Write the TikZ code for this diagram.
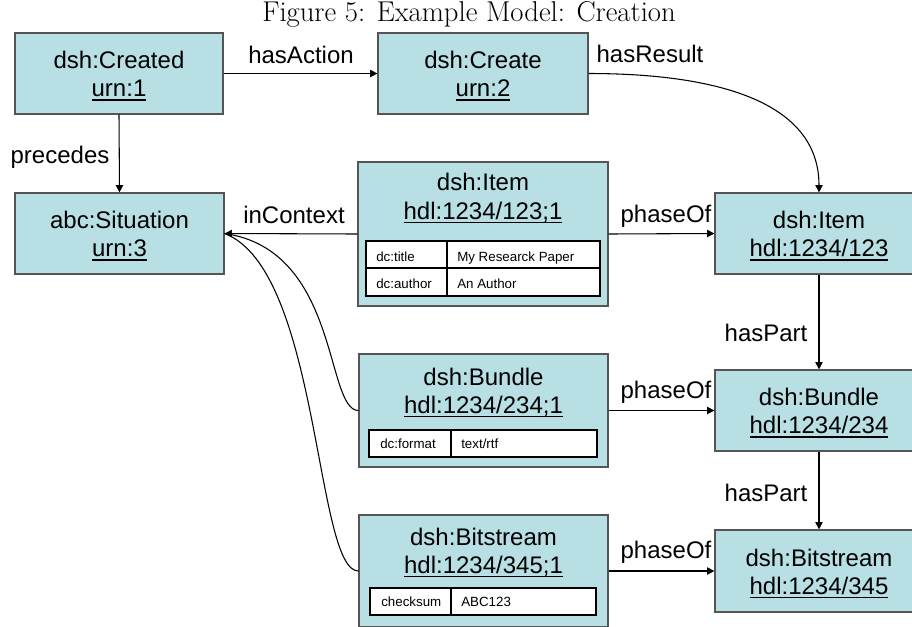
\documentclass[tikz,border=0pt]{standalone}
\usepackage{fontspec}
\newfontfamily\arialf{Liberation Sans}
\usetikzlibrary{arrows.meta}
\definecolor{boxfill}{RGB}{184,223,227}
\definecolor{boxline}{RGB}{85,85,85}
\newcommand\undl[1]{\setbox0\hbox{#1}\rlap{\rule[-3.2pt]{\wd0}{1.1pt}}\box0}
\begin{document}
\begin{tikzpicture}[x=0.75pt,y=-0.75pt,
  obj/.style={draw=boxline, line width=0.9pt, fill=boxfill, rectangle, inner sep=0pt},
  txt/.style={font=\arialf\fontsize{18}{21}\selectfont, inner sep=0pt, anchor=base},
  cell/.style={font=\arialf\fontsize{10}{12}\selectfont, inner sep=0pt, anchor=base west},
  tblfill/.style={fill=white, rectangle, inner sep=0pt},
  tblframe/.style={draw=black, line width=2.2pt, rectangle, inner sep=0pt},
  tline/.style={draw=black, line width=0.8pt},
  conn/.style={draw=black, line width=0.8pt, -{Triangle[length=5.5pt,width=5.5pt]}},
  plain/.style={draw=black, line width=0.8pt},
]
\useasboundingbox (0,0) rectangle (912,626);
\clip (0,0) rectangle (912,626);
\fill[white] (0,0) rectangle (912,626);

% title
\node[font=\fontsize{21.5}{25}\selectfont, inner sep=0pt, anchor=base] (title) at (469,21) {Figure 5: Example Model: Creation};

% boxes
\node[obj, minimum width=156pt, minimum height=60.75pt] (created) at (119,73.5) {};
\node[obj, minimum width=157.5pt, minimum height=60.75pt] (create) at (483,73.5) {};
\node[obj, minimum width=156.75pt, minimum height=60.75pt] (situation) at (119.5,233.5) {};
\node[obj, minimum width=187.5pt, minimum height=108pt] (itemM) at (483,234) {};
\node[obj, minimum width=186.75pt, minimum height=84.75pt] (bundleM) at (483.5,410.5) {};
\node[obj, minimum width=186.75pt, minimum height=84pt] (bitM) at (483.5,571) {};
\node[obj, minimum width=156pt, minimum height=60.75pt] (itemR) at (819,233.5) {};
\node[obj, minimum width=156pt, minimum height=60.75pt] (bundleR) at (819,410.5) {};
\node[obj, minimum width=156pt, minimum height=61.5pt] (bitR) at (819,571) {};

% box texts
\node[txt] (createdA) at (119,68.5) {dsh:Created};
\node[txt] (createdB) at (119,96.5) {\undl{urn:1}};
\node[txt] (createA) at (483,68.5) {dsh:Create};
\node[txt] (createB) at (483,96.5) {\undl{urn:2}};
\node[txt] (situationA) at (119.5,228.5) {abc:Situation};
\node[txt] (situationB) at (119.5,256.5) {\undl{urn:3}};
\node[txt] (itemMA) at (483,190) {dsh:Item};
\node[txt] (itemMB) at (483,219) {\undl{hdl:1234/123;1}};
\node[txt] (bundleMA) at (483.5,385) {dsh:Bundle};
\node[txt] (bundleMB) at (483.5,413) {\undl{hdl:1234/234;1}};
\node[txt] (bitMA) at (483.5,545) {dsh:Bitstream};
\node[txt] (bitMB) at (483.5,573) {\undl{hdl:1234/345;1}};
\node[txt] (itemRA) at (819,228.5) {dsh:Item};
\node[txt] (itemRB) at (819,256.5) {\undl{hdl:1234/123}};
\node[txt] (bundleRA) at (819,405.5) {dsh:Bundle};
\node[txt] (bundleRB) at (819,433.5) {\undl{hdl:1234/234}};
\node[txt] (bitRA) at (819,566) {dsh:Bitstream};
\node[txt] (bitRB) at (819,594) {\undl{hdl:1234/345}};

% tables
\node[tblfill, minimum width=175.5pt, minimum height=41.25pt] (itemTab) at (483,268.5) {};
\draw[tline] (366,268) -- (600,268);
\draw[tline] (447,241) -- (447,296);
\node[tblframe, minimum width=175.5pt, minimum height=41.25pt] (itemTabF) at (483,268.5) {};
\node[cell] (c1) at (376,261) {dc:title};
\node[cell] (c2) at (457,261) {My Researck Paper};
\node[cell] (c3) at (376,288) {dc:author};
\node[cell] (c4) at (457,288) {An Author};

\node[tblfill, minimum width=171pt, minimum height=20.25pt] (bundleTab) at (483,443.5) {};
\draw[tline] (451,430) -- (451,457);
\node[tblframe, minimum width=171pt, minimum height=20.25pt] (bundleTabF) at (483,443.5) {};
\node[cell] (c5) at (380,448) {dc:format};
\node[cell] (c6) at (461,448) {text/rtf};

\node[tblfill, minimum width=169.5pt, minimum height=20.25pt] (bitTab) at (483,601.5) {};
\draw[tline] (451,588) -- (451,615);
\node[tblframe, minimum width=169.5pt, minimum height=20.25pt] (bitTabF) at (483,601.5) {};
\node[cell] (c7) at (381,606) {checksum};
\node[cell] (c8) at (461,606) {ABC123};

% connectors
\draw[conn] (created.east) -- (create.west);
\draw[conn] (created.south) -- (situation.north);
\draw[conn] (create.east) to[out=0,in=90] (itemR.north);
\draw[conn] (itemM.west) -- (situation.east);
\draw[plain] (bundleM.west) .. controls (325,410) and (340,250) .. (situation.east);
\draw[plain] (bitM.west) .. controls (315,571) and (320,270) .. (situation.east);
\draw[conn] (itemM.east) -- (itemR.west);
\draw[conn] (bundleM.east) -- (bundleR.west);
\draw[conn] (bitM.east) -- (bitR.west);
\draw[conn] (itemR.south) -- (bundleR.north);
\draw[conn] (bundleR.south) -- (bitR.north);

% labels
\node[txt] (lAction) at (301,63) {hasAction};
\node[txt] (lResult) at (650,62) {hasResult};
\node[txt] (lPrecedes) at (60,163) {precedes};
\node[txt] (lContext) at (294,223) {inContext};
\node[txt] (lPhase1) at (666,222) {phaseOf};
\node[txt] (lPhase2) at (666,398) {phaseOf};
\node[txt] (lPhase3) at (666,558) {phaseOf};
\node[txt] (lPart1) at (766,341) {hasPart};
\node[txt] (lPart2) at (766,501) {hasPart};
\end{tikzpicture}
\end{document}
